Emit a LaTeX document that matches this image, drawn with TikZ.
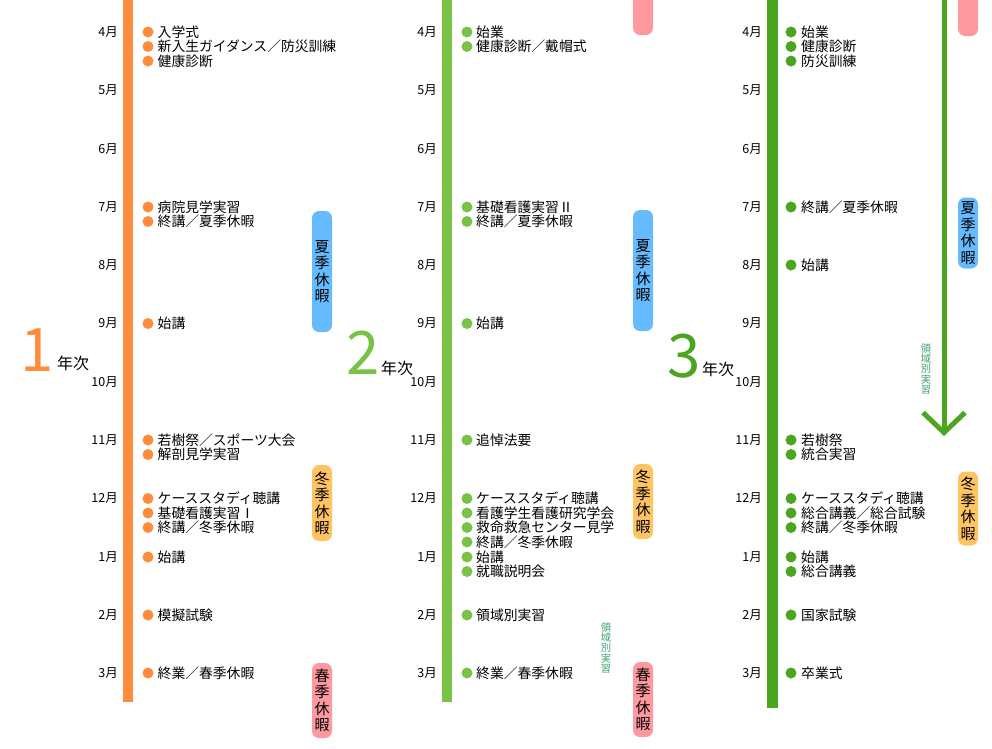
\documentclass[tikz,border=0pt]{standalone}
\usepackage{fontspec}
\setmainfont{Noto Sans CJK JP}
\usetikzlibrary{arrows.meta}

\definecolor{nenA}{HTML}{FF8C3A}
\definecolor{nenB}{HTML}{78C346}
\definecolor{nenC}{HTML}{4BA51E}
\definecolor{natsu}{HTML}{66BBFF}
\definecolor{fuyu}{HTML}{FFC364}
\definecolor{haru}{HTML}{FF99A0}
\definecolor{ryoiki}{HTML}{3DA070}

\begin{document}
\begin{tikzpicture}[x=1pt, y=-1pt,
  every node/.style={inner sep=0pt, font=\fontsize{13.8}{14.5}\selectfont},
  bar/.style={line width=10.5pt},
  month/.style={anchor=east, font=\fontsize{12.5}{13}\selectfont},
  ev/.style={anchor=west},
  dot/.style={circle, minimum size=11pt},
  pill/.style={rounded corners=7pt, minimum width=20pt, align=center, font=\fontsize{15}{16.5}\selectfont},
  big/.style={font=\fontsize{60}{61}\selectfont},
  nenji/.style={anchor=west, font=\fontsize{16}{17}\selectfont},
  small/.style={align=center, text=ryoiki, font=\fontsize{10.3}{10.4}\selectfont}
]
\useasboundingbox (0,0) rectangle (992,748);

% Time bars
\coordinate (b1s) at (128,0);   \coordinate (b1e) at (128,702);
\coordinate (b2s) at (447,0);   \coordinate (b2e) at (447,702);
\coordinate (b3s) at (772.5,0); \coordinate (b3e) at (772.5,708);
\draw[bar, nenA] (b1s) -- (b1e);
\draw[bar, nenB] (b2s) -- (b2e);
\draw[bar, nenC] (b3s) -- (b3e);

% Months
\foreach \m [count=\i from 0] in {4,5,6,7,8,9,10,11,12,1,2,3} {
  \node[month] (ma\i) at (118, 32+58.3*\i) {\m 月};
  \node[month] (mb\i) at (437, 32+58.3*\i) {\m 月};
  \node[month] (mc\i) at (762, 32+58.3*\i) {\m 月};
}

% Year labels
\node[big, text=nenA] (y1) at (37,350) {1};
\node[nenji] (n1) at (57,363) {年次};
\node[big, text=nenB] (y2) at (363,353) {2};
\node[nenji] (n2) at (381,368) {年次};
\node[big, text=nenC] (y3) at (684,356) {3};
\node[nenji] (n3) at (702,369) {年次};

% 1年次 events
\foreach \y/\t [count=\i] in {32/入学式, 46.5/新入生ガイダンス／防災訓練, 61/健康診断,
    207/病院見学実習, 221.5/終講／夏季休暇, 323.5/始講,
    440/若樹祭／スポーツ大会, 454.5/解剖見学実習,
    498.5/ケーススタディ聴講, 513/基礎看護実習Ⅰ, 527.5/終講／冬季休暇,
    557/始講, 615/模擬試験, 673/終業／春季休暇} {
  \node[dot, fill=nenA] (da\i) at (148,\y) {};
  \node[ev] (ea\i) at (157.5,\y) {\t};
}

% 2年次 events
\foreach \y/\t [count=\i] in {32/始業, 46.5/健康診断／戴帽式,
    207/基礎看護実習Ⅱ, 221.5/終講／夏季休暇, 323.5/始講, 440/追悼法要,
    498.5/ケーススタディ聴講, 513/看護学生看護研究学会, 527.5/救命救急センター見学,
    542/終講／冬季休暇, 557/始講, 571.5/就職説明会,
    615/領域別実習, 673/終業／春季休暇} {
  \node[dot, fill=nenB] (db\i) at (467,\y) {};
  \node[ev] (eb\i) at (476,\y) {\t};
}

% 3年次 events
\foreach \y/\t [count=\i] in {32/始業, 46.5/健康診断, 61/防災訓練,
    207/終講／夏季休暇, 265/始講, 440/若樹祭, 454.5/統合実習,
    498.5/ケーススタディ聴講, 513/総合講義／総合試験, 527.5/終講／冬季休暇,
    557/始講, 571.5/総合講義, 615/国家試験, 673/卒業式} {
  \node[dot, fill=nenC] (dc\i) at (791,\y) {};
  \node[ev] (ec\i) at (801,\y) {\t};
}

% Vacations
\node[pill, fill=natsu, minimum height=121pt] (na1) at (322,271.5) {夏\\季\\休\\暇};
\node[pill, fill=fuyu, minimum height=76pt] (fu1) at (322,503) {冬\\季\\休\\暇};
\node[pill, fill=haru, minimum height=75pt] (ha1) at (322,700.5) {春\\季\\休\\暇};

\node[pill, fill=haru, minimum height=50pt] (hb0) at (643,10) {};
\node[pill, fill=natsu, minimum height=121pt] (nb1) at (643,270.5) {夏\\季\\休\\暇};
\node[pill, fill=fuyu, minimum height=75pt] (fb1) at (643,501.5) {冬\\季\\休\\暇};
\node[pill, fill=haru, minimum height=75pt] (hb1) at (643,699.5) {春\\季\\休\\暇};

\node[pill, fill=haru, minimum height=50pt] (hc0) at (968,11) {};
\node[pill, fill=natsu, minimum height=71pt] (nc1) at (968,233) {夏\\季\\休\\暇};
\node[pill, fill=fuyu, minimum height=74pt] (fc1) at (968,508.5) {冬\\季\\休\\暇};

% 領域別実習
\node[small] (rb) at (606,648) {領\\域\\別\\実\\習};
\node[small] (rc) at (926,369) {領\\域\\別\\実\\習};
\coordinate (as) at (944,0);
\coordinate (ae) at (944,436);
\draw[line width=5pt, nenC, -{Straight Barb[length=20pt, width=42pt]}] (as) -- (ae);
\end{tikzpicture}
\end{document}
